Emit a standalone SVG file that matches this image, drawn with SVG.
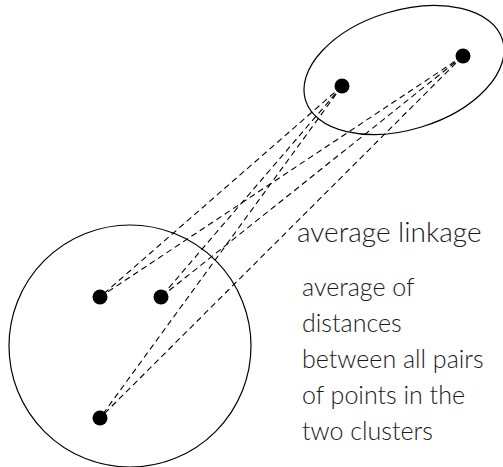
<svg xmlns="http://www.w3.org/2000/svg" width="503" height="467" viewBox="0 0 503 467">
  <style>
    .cluster { fill: none; stroke: #000; stroke-width: 1.2; }
    .pt { fill: #000; }
    .link { stroke: #000; stroke-width: 1.1; stroke-dasharray: 6 4; fill: none; }
    .label { font-family: Lato, "Liberation Sans", sans-serif; font-weight: 300; fill: #1a1a1a; }
  </style>
  <rect width="503" height="467" fill="#fff"/>

  <!-- pairwise distances between the two clusters -->
  <g id="links">
    <line class="link" x1="342" y1="86" x2="100" y2="297"/>
    <line class="link" x1="342" y1="86" x2="161" y2="297"/>
    <line class="link" x1="342" y1="86" x2="100" y2="418"/>
    <line class="link" x1="463" y1="56" x2="100" y2="297"/>
    <line class="link" x1="463" y1="56" x2="161" y2="297"/>
    <line class="link" x1="463" y1="56" x2="100" y2="418"/>
  </g>

  <g id="cluster-a">
    <ellipse class="cluster" cx="404" cy="70" rx="103" ry="59.6" transform="rotate(-17 404 70)"/>
    <circle class="pt" cx="342" cy="86" r="7.5"/>
    <circle class="pt" cx="463" cy="56" r="7.5"/>
  </g>

  <g id="cluster-b">
    <circle class="cluster" cx="130" cy="346" r="121"/>
    <circle class="pt" cx="100" cy="297" r="7.5"/>
    <circle class="pt" cx="161" cy="297" r="7.5"/>
    <circle class="pt" cx="100" cy="418" r="7.5"/>
  </g>

  <g id="title">
    <text class="label" x="297" y="242" font-size="28">average linkage</text>
  </g>

  <g id="description">
    <text class="label" x="302" y="296" font-size="25">average of</text>
    <text class="label" x="302" y="332" font-size="25">distances</text>
    <text class="label" x="302" y="368" font-size="25">between all pairs</text>
    <text class="label" x="302" y="404" font-size="25">of points in the</text>
    <text class="label" x="302" y="440" font-size="25">two clusters</text>
  </g>
</svg>
